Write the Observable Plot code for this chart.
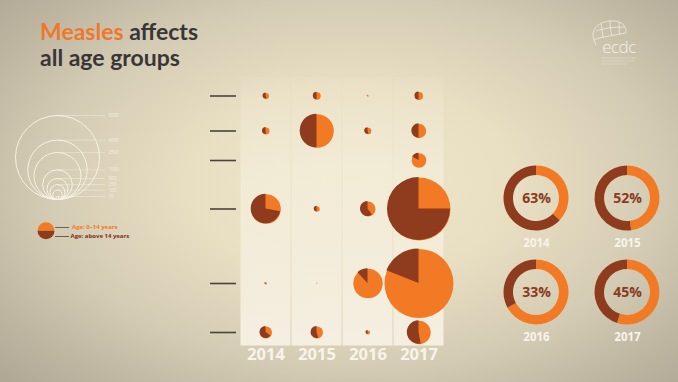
<!DOCTYPE html>
<html><head><meta charset="utf-8">
<script src="https://cdn.jsdelivr.net/npm/d3@7"></script>
<script src="https://cdn.jsdelivr.net/npm/@observablehq/plot@0.6"></script>
<style>
html,body{margin:0;padding:0;background:#cfc6b0;}
#chart{position:relative;width:678px;height:382px;overflow:hidden;
 background:
  radial-gradient(ellipse 70% 75% at 52% 48%, rgba(240,231,204,1) 0%, rgba(232,222,194,1) 35%, rgba(212,203,180,1) 65%, rgba(176,167,149,1) 100%);}
#title{position:absolute;left:40px;top:18px;font-family:Lato,"Open Sans",sans-serif;font-weight:700;font-size:23px;line-height:26px;color:#3a3536;}
#title .hl{color:#f0782c;}
</style></head><body>
<div id="chart">
  <div id="title"><span class="hl">Measles</span> affects<br>all age groups</div>
</div>
<script>
// ---------- data ----------
const years = ["2014", "2015", "2016", "2017"];
const rows = ["Row 1", "Row 2", "Row 3", "Row 4", "Row 5", "Row 6"];
// measles cases per row (country) and year
const cases = [
  [41, 62, 2, 73],
  [56, 1280, 49, 235],
  [0, 0, 0, 242],
  [993, 33, 255, 4500],
  [5, 1, 980, 5400],
  [163, 163, 18, 620]
];
// share of cases aged 0-14 years (%)
const childShare = [
  [45, 50, 50, 50],
  [48, 50, 45, 50],
  [0, 0, 0, 83],
  [28, 50, 40, 25],
  [50, 50, 88, 81],
  [35, 45, 50, 47]
];
// share of cases aged above 14 years (%), all countries
const above14Pct = [63, 52, 33, 45];
const legendCases = [8000, 4000, 2500, 1000, 500, 250, 100, 10];
const ageGroups = ["Age: 0\u201314 years", "Age: above 14 years"];

// ---------- styling ----------
const ORANGE = "#f27a25";
const DARK = "#8e3c1d";
const rScale = {type: "sqrt", domain: [0, 8000], range: [0, 42]};
const chart = document.getElementById("chart");
const baseStyle = {background: "transparent", overflow: "visible", position: "absolute", left: "0px", top: "0px", maxWidth: "none"};

function place(node) {
  node.style.position = "absolute";
  node.style.left = "0px";
  node.style.top = "0px";
  chart.appendChild(node);
  return node;
}

const cells = rows.flatMap((row, i) => years.map((year, j) => ({
  row, year, cases: cases[i][j], share: childShare[i][j] / 100
}))).filter(d => d.cases > 0);

// dark (above 14) wedges drawn with the plot's own x, y and r scales
function pieWedges(data) {
  return (index, scales) => {
    const g = d3.create("svg:g");
    const off = scales.x.bandwidth ? scales.x.bandwidth() / 2 : 0;
    const arc = d3.arc();
    for (const d of data) {
      const rad = scales.r(d.cases);
      if (!(rad > 0)) continue;
      g.append("path")
        .attr("transform", `translate(${scales.x(d.year) + off},${scales.y(d.row)})`)
        .attr("d", arc({innerRadius: 0, outerRadius: rad, startAngle: 2 * Math.PI * d.share, endAngle: 2 * Math.PI}))
        .attr("fill", DARK);
    }
    return g.node();
  };
}

// ---------- bubble grid ----------
const bubbles = Plot.plot({
  width: 678, height: 382,
  marginLeft: 210, marginRight: 442, marginTop: 76, marginBottom: 36,
  style: baseStyle,
  x: {type: "band", domain: years, range: [239, 444], padding: 0, axis: null},
  y: {type: "ordinal", domain: rows, range: [95.5, 130.5, 160, 208.5, 283, 332], axis: null},
  r: rScale,
  marks: [
    Plot.cell(years, {x: d => d, fill: "url(#panelGrad)", inset: 0.5}),
    Plot.tickY(rows, {y: d => d, stroke: "#4a423c", strokeWidth: 1.6}),
    Plot.dot(cells, {x: "year", y: "row", r: "cases", fill: ORANGE}),
    pieWedges(cells),
    Plot.text(years, {x: d => d, text: d => d, frameAnchor: "bottom", dy: 13.5, fill: "#f8f4ec",
      fontSize: 16.5, fontWeight: "bold", fontFamily: "Open Sans"})
  ]
});
bubbles.insertAdjacentHTML("afterbegin",
  `<defs><linearGradient id="panelGrad" x1="0" y1="0" x2="0" y2="1">
     <stop offset="0" stop-color="#f4eedc" stop-opacity="0.1"/>
     <stop offset="0.35" stop-color="#f4eedc" stop-opacity="0.65"/>
     <stop offset="1" stop-color="#f6f1e4" stop-opacity="0.95"/>
   </linearGradient></defs>`);
place(bubbles);

// ---------- yearly donuts ----------
const donuts = years.map((year, i) => ({year, pct: above14Pct[i], col: i % 2, row: Math.floor(i / 2)}));
function donutRings(data) {
  return (index, scales) => {
    const g = d3.create("svg:g");
    const arc = d3.arc().innerRadius(23).outerRadius(32.5);
    for (const d of data) {
      const t = `translate(${scales.x(d.col)},${scales.y(d.row)})`;
      const split = 2 * Math.PI * (1 - d.pct / 100);
      g.append("path").attr("transform", t).attr("fill", ORANGE)
        .attr("d", arc({startAngle: 0, endAngle: split}));
      g.append("path").attr("transform", t).attr("fill", DARK)
        .attr("d", arc({startAngle: split, endAngle: 2 * Math.PI}));
    }
    return g.node();
  };
}
place(Plot.plot({
  width: 678, height: 382, style: baseStyle,
  x: {type: "point", domain: [0, 1], range: [535.5, 627], padding: 0, axis: null},
  y: {type: "point", domain: [0, 1], range: [198, 292], padding: 0, axis: null},
  marks: [
    donutRings(donuts),
    Plot.text(donuts, {x: "col", y: "row", text: d => d.pct + "%", fill: "#8b3a1f",
      fontSize: 14, fontWeight: "bold", fontFamily: "Open Sans"}),
    Plot.text(donuts, {x: "col", y: "row", text: "year", dy: 45, fill: "#f8f4ec",
      fontSize: 11.5, fontWeight: "bold", fontFamily: "Open Sans"})
  ]
}));

// ---------- size legend ----------
place(Plot.plot({
  width: 678, height: 382, style: baseStyle,
  x: {domain: [0, 1], range: [57, 105], axis: null},
  y: {type: "sqrt", domain: [0, 8000], range: [199, 115], axis: null},
  r: rScale,
  marks: [
    Plot.ruleY(legendCases, {y: d => d, x1: 0, x2: 1, stroke: "#f6f1e6", strokeWidth: 0.6, strokeOpacity: 0.75}),
    Plot.dot(legendCases, {x: 0, y: d => d / 4, r: d => d, fill: "none", stroke: "#f8f3e9", strokeWidth: 1}),
    Plot.text(legendCases, {x: 1, y: d => d, text: d => String(d), dx: 3, textAnchor: "start",
      fontSize: 4.5, fill: "#f6f1e6", fontFamily: "Open Sans"})
  ]
}));

// ---------- age key ----------
function keyPie() {
  return (index, scales) => {
    const g = d3.create("svg:g");
    const [y0, y1] = scales.y.range();
    const cx = scales.x(0) - 9, cy = (y0 + y1) / 2 - 1;
    const arc = d3.arc().innerRadius(0).outerRadius(8.5);
    g.append("path").attr("transform", `translate(${cx},${cy})`).attr("fill", ORANGE)
      .attr("d", arc({startAngle: -Math.PI / 2, endAngle: Math.PI / 2}));
    g.append("path").attr("transform", `translate(${cx},${cy})`).attr("fill", DARK)
      .attr("d", arc({startAngle: Math.PI / 2, endAngle: 3 * Math.PI / 2}));
    return g.node();
  };
}
place(Plot.plot({
  width: 678, height: 382, style: baseStyle,
  x: {domain: [0, 1], range: [55, 69], axis: null},
  y: {type: "point", domain: ageGroups, range: [227, 236.5], padding: 0, axis: null},
  marks: [
    keyPie(),
    Plot.ruleY(ageGroups, {y: d => d, x1: 0, x2: 1, stroke: "#5b4036", strokeWidth: 0.8}),
    Plot.text([ageGroups[0]], {x: 1, y: d => d, text: d => d, dx: 2.5, textAnchor: "start",
      fill: ORANGE, fontSize: 6, fontWeight: "bold", fontFamily: "Open Sans"}),
    Plot.text([ageGroups[1]], {x: 1, y: d => d, text: d => d, dx: 1, textAnchor: "start",
      fill: "#7a3218", fontSize: 6, fontWeight: "bold", fontFamily: "Open Sans"})
  ]
}));

// ---------- logo ----------
chart.insertAdjacentHTML("beforeend", `
<svg width="678" height="382" style="position:absolute;left:0;top:0;pointer-events:none">
 <g fill="none" stroke="#f4efe6" stroke-width="0.8" stroke-opacity="0.9">
  <path d="M594 40 C590 30 598 22 610 21 C620 20 627 25 626 33"/>
  <path d="M594 40 C600 37 610 36 626 33"/>
  <path d="M596 31 C604 28 614 27 625 27"/>
  <path d="M601 24 C602 30 603 35 603 38"/>
  <path d="M610 21 C610 27 611 32 612 36"/>
  <path d="M619 22 C619 27 619 31 620 35"/>
  <path d="M594 40 L596 45"/>
 </g>
 <text x="619" y="53" text-anchor="middle" font-family="Open Sans" font-weight="300" font-size="17" fill="#f4efe6" letter-spacing="-0.5">ecdc</text>
 <g stroke="#f4efe6" stroke-width="0.6" stroke-opacity="0.6">
  <line x1="602" y1="58" x2="636" y2="58"/>
  <line x1="602" y1="61" x2="634" y2="61"/>
  <line x1="602" y1="64" x2="626" y2="64"/>
 </g>
</svg>`);
</script>
</body></html>
